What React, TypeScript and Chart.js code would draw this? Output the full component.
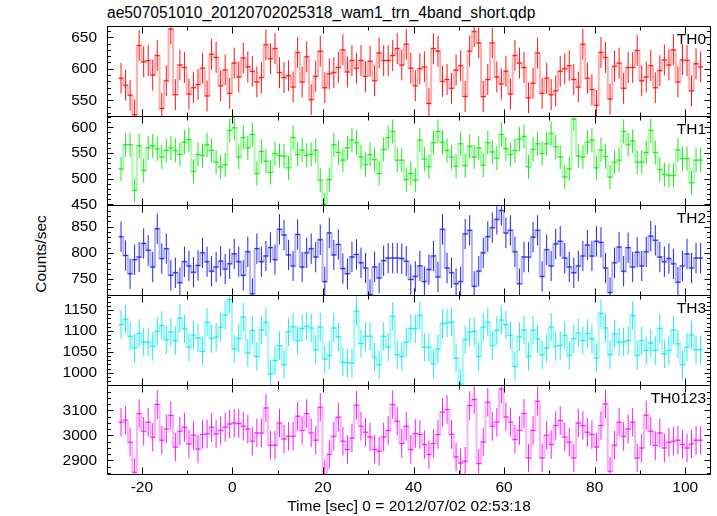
import React, { useEffect, useRef } from "react";
import { Chart, registerables } from "chart.js";

Chart.register(...registerables);

const FONT = '"Liberation Sans", Arial, Helvetica, sans-serif';
const W = 717;
const H = 516;
const PLOT_LEFT = 107;
const PLOT_RIGHT = 711;

// time grid (1 s bins)
const FIRST_BIN_CENTER = -24.6;
const BIN_WIDTH = 1;
const X_MIN = -27.7;
const X_MAX = 105.7;
const X_TICKS = [-20, 0, 20, 40, 60, 80, 100];
const X_MINOR_STEP = 10;

const TITLE = "ae507051010_20120702025318_wam1_trn_4band_short.qdp";
const X_TITLE = "Time [sec] 0 = 2012/07/02 02:53:18";
const Y_TITLE = "Counts/sec";

const TH0 = [
  585, 574, 558, 527, 637, 611, 613, 590, 621, 537,
  581, 663, 559, 606, 602, 560, 570, 575, 601, 557,
  623, 618, 573, 598, 561, 609, 587, 617, 603, 596,
  579, 586, 638, 616, 632, 594, 586, 589, 571, 626,
  579, 619, 551, 588, 628, 570, 592, 594, 602, 630,
  595, 613, 601, 613, 588, 612, 581, 625, 613, 613,
  621, 632, 606, 639, 601, 573, 600, 603, 545, 632,
  628, 580, 583, 569, 598, 605, 556, 628, 659, 641,
  556, 583, 641, 587, 576, 596, 560, 621, 609, 602,
  554, 577, 625, 561, 585, 559, 565, 596, 600, 605,
  583, 571, 639, 585, 567, 542, 626, 618, 552, 604,
  609, 569, 602, 602, 629, 581, 587, 605, 570, 597,
  614, 606, 630, 579, 614, 613, 565, 608, 603,
];

const TH1 = [
  519, 566, 566, 477, 564, 516, 560, 564, 558, 542,
  555, 560, 555, 547, 571, 576, 514, 547, 545, 566,
  555, 532, 523, 527, 594, 599, 542, 580, 560, 586,
  510, 553, 534, 512, 549, 545, 544, 521, 580, 547,
  556, 545, 547, 555, 497, 449, 498, 566, 551, 536,
  560, 575, 570, 542, 527, 547, 537, 510, 557, 580,
  592, 536, 536, 498, 510, 497, 575, 538, 523, 570,
  592, 571, 555, 542, 524, 568, 525, 563, 542, 560,
  526, 570, 552, 540, 586, 558, 547, 555, 577, 582,
  523, 557, 568, 549, 568, 588, 562, 542, 503, 519,
  616, 544, 542, 571, 575, 521, 556, 543, 503, 532,
  536, 592, 566, 573, 532, 532, 551, 594, 551, 518,
  508, 506, 506, 556, 539, 539, 492, 536, 536,
];

const TH2 = [
  831, 795, 760, 787, 792, 818, 805, 773, 846, 789,
  808, 757, 762, 743, 783, 775, 763, 776, 800, 783,
  765, 773, 784, 769, 779, 798, 783, 757, 802, 722,
  808, 783, 794, 810, 787, 845, 834, 796, 775, 835,
  773, 800, 808, 792, 825, 745, 838, 796, 816, 770,
  760, 792, 797, 781, 771, 720, 773, 752, 785, 790,
  790, 790, 789, 784, 749, 755, 775, 745, 768, 794,
  754, 845, 771, 762, 741, 745, 836, 843, 736, 765,
  800, 831, 848, 864, 881, 838, 843, 802, 741, 792,
  792, 830, 843, 755, 806, 775, 817, 822, 790, 773,
  762, 775, 794, 815, 794, 822, 820, 771, 724, 781,
  811, 765, 810, 773, 801, 775, 802, 832, 824, 792,
  783, 789, 779, 744, 775, 798, 771, 790, 790,
];

const TH3 = [
  1115, 1128, 1087, 1059, 1094, 1073, 1073, 1063, 1099, 1113,
  1079, 1097, 1077, 1130, 1105, 1061, 1090, 1083, 1051, 1121,
  1082, 1085, 1109, 1138, 1175, 1057, 1082, 1133, 1047, 1101,
  1039, 1102, 1121, 997, 1029, 1065, 1019, 1098, 1110, 1077,
  1106, 1111, 1107, 1055, 1109, 1033, 1041, 1107, 1086, 1025,
  1023, 1023, 1147, 1070, 1087, 1087, 1037, 1019, 1087, 1061,
  1135, 1043, 1039, 1073, 1106, 1105, 1137, 1061, 1061, 1021,
  1057, 1117, 1119, 1121, 1035, 973, 1079, 1097, 1099, 1039,
  1109, 1121, 1065, 1101, 1126, 1115, 1089, 1015, 1086, 1102,
  1039, 1102, 1081, 1043, 1059, 1109, 1063, 1065, 1089, 1041,
  1081, 1095, 1077, 1094, 1081, 1035, 1142, 1107, 1043, 1093,
  1073, 1074, 1077, 1137, 1041, 1077, 1053, 1071, 1053, 1106,
  1045, 1053, 1102, 1069, 1019, 1061, 1090, 1055, 1055,
];

const TH0123 = [
  3052, 3060, 2972, 2852, 3087, 3016, 3052, 2992, 3123, 2980,
  3025, 3079, 2953, 3016, 3032, 2965, 3000, 2945, 3003, 3005,
  3032, 3005, 3019, 3032, 3045, 3049, 3047, 3036, 3025, 2976,
  3009, 3009, 3109, 2960, 2960, 3049, 2985, 2996, 2996, 3076,
  3019, 3087, 3009, 2980, 3112, 2843, 2923, 2996, 3072, 2976,
  2943, 2989, 3120, 3036, 3012, 2993, 2943, 2936, 2993, 3019,
  3123, 3056, 2967, 3036, 2943, 3007, 3003, 2963, 2923, 2967,
  3003, 3092, 3103, 3003, 2913, 2889, 2896, 3119, 3143, 2887,
  2973, 3132, 3036, 3052, 3185, 3073, 3053, 2983, 3019, 3087,
  2909, 3019, 3136, 2909, 3000, 2963, 3039, 3059, 2993, 2972,
  2909, 3049, 3039, 3012, 3003, 2953, 3039, 3125, 2856, 2960,
  3052, 2996, 3025, 3052, 2909, 2949, 3080, 3016, 2959, 3009,
  2949, 2972, 2976, 2980, 2963, 2949, 2965, 2980, 2980,
];

// typical 1-sigma error bar half-length read for each band
const TH0_ERR = 24.5;
const TH1_ERR = 23.5;
const TH2_ERR = 29;
const TH3_ERR = 34;
const TH0123_ERR = 57;

const TH0_TICKS = [550, 600, 650];
const TH1_TICKS = [450, 500, 550, 600];
const TH2_TICKS = [750, 800, 850];
const TH3_TICKS = [1000, 1050, 1100, 1150];
const TH0123_TICKS = [2900, 3000, 3100];

type Panel = {
  label: string;
  values: number[];
  err: number;
  ticks: number[];
  major: number;
  minor: number;
  min: number;
  max: number;
  top: number;
  bottom: number;
  color: string;
  light: string;
};

const PANELS: Panel[] = [
  { label: "TH0", values: TH0, err: TH0_ERR, ticks: TH0_TICKS, major: 50, minor: 10, min: 523.5, max: 666.3, top: 27, bottom: 117, color: "rgb(255,20,20)", light: "rgba(255,20,20,0.35)" },
  { label: "TH1", values: TH1, err: TH1_ERR, ticks: TH1_TICKS, major: 50, minor: 10, min: 446.7, max: 620.1, top: 117, bottom: 206, color: "rgb(25,235,25)", light: "rgba(25,235,25,0.35)" },
  { label: "TH2", values: TH2, err: TH2_ERR, ticks: TH2_TICKS, major: 50, minor: 10, min: 717.5, max: 889.6, top: 206, bottom: 296, color: "rgb(35,35,235)", light: "rgba(35,35,235,0.35)" },
  { label: "TH3", values: TH3, err: TH3_ERR, ticks: TH3_TICKS, major: 50, minor: 10, min: 968.2, max: 1183.5, top: 296, bottom: 386, color: "rgb(30,235,235)", light: "rgba(30,235,235,0.4)" },
  { label: "TH0123", values: TH0123, err: TH0123_ERR, ticks: TH0123_TICKS, major: 100, minor: 25, min: 2841, max: 3197, top: 386, bottom: 475, color: "rgb(245,30,245)", light: "rgba(245,30,245,0.35)" },
];

function makeFramePlugin(p: Panel) {
  return {
    id: "panelFrame",
    afterDraw(chart: any) {
      const { ctx, chartArea: a } = chart;
      const x = chart.scales.x;
      const y = chart.scales.y;
      ctx.save();
      ctx.strokeStyle = "#000";
      ctx.lineWidth = 1;
      const L = Math.round(a.left) + 0.5;
      const R = Math.round(a.right) - 0.5;
      // shared boundaries between panels fall on the same pixel row
      const T = Math.round(a.top) - 0.5;
      const B = Math.round(a.bottom) - 0.5;
      ctx.beginPath();
      ctx.rect(L, T, R - L, B - T);
      // y ticks (inward, both sides)
      const start = Math.ceil(p.min / p.minor);
      const end = Math.floor(p.max / p.minor);
      for (let i = start; i <= end; i++) {
        const v = i * p.minor;
        const py = Math.round(y.getPixelForValue(v)) + 0.5;
        const len = v % p.major === 0 ? 6 : 3.5;
        ctx.moveTo(L, py);
        ctx.lineTo(L + len, py);
        ctx.moveTo(R, py);
        ctx.lineTo(R - len, py);
      }
      // x ticks (inward, top and bottom)
      const xs = Math.ceil(X_MIN / X_MINOR_STEP);
      const xe = Math.floor(X_MAX / X_MINOR_STEP);
      for (let i = xs; i <= xe; i++) {
        const v = i * X_MINOR_STEP;
        const px = Math.round(x.getPixelForValue(v)) + 0.5;
        const len = X_TICKS.includes(v) ? 7 : 4;
        ctx.moveTo(px, T);
        ctx.lineTo(px, T + len);
        ctx.moveTo(px, B);
        ctx.lineTo(px, B - len);
      }
      ctx.stroke();
      ctx.fillStyle = "#000";
      ctx.font = `15.5px ${FONT}`;
      ctx.textAlign = "right";
      ctx.textBaseline = "alphabetic";
      ctx.fillText(p.label, a.right - 5, a.top + 16.5);
      ctx.restore();
    },
  };
}

function makeConfig(p: Panel, idx: number): any {
  const isLast = idx === PANELS.length - 1;
  const n = p.values.length;
  const steps = p.values.map((v, k) => ({ x: FIRST_BIN_CENTER + k * BIN_WIDTH - BIN_WIDTH / 2, y: v }));
  steps.push({ x: FIRST_BIN_CENTER + (n - 0.5) * BIN_WIDTH, y: p.values[n - 1] });
  const horiz: any[] = [];
  const errs: any[] = [];
  p.values.forEach((v, k) => {
    const c = FIRST_BIN_CENTER + k * BIN_WIDTH;
    horiz.push({ x: c - BIN_WIDTH / 2, y: v }, { x: c + BIN_WIDTH / 2, y: v }, { x: c + BIN_WIDTH / 2, y: null });
    errs.push({ x: c, y: v - p.err }, { x: c, y: v + p.err }, { x: c, y: null });
  });

  const font = { family: FONT, size: 15.5 };

  const xScale: any = {
    type: "linear",
    min: X_MIN,
    max: X_MAX,
    display: isLast,
    grid: { display: false, drawTicks: false },
    border: { display: false },
    afterBuildTicks: (s: any) => {
      s.ticks = X_TICKS.map((v) => ({ value: v }));
    },
    ticks: {
      font,
      color: "#000",
      padding: 3,
      maxRotation: 0,
      autoSkip: false,
      callback: (v: any) => String(v),
    },
    title: { display: true, text: X_TITLE, font, color: "#000", padding: 0 },
  };
  if (isLast) {
    xScale.afterFit = (s: any) => {
      s.height = H - p.bottom;
    };
  }

  return {
    type: "line",
    data: {
      datasets: [
        { data: steps, stepped: "before", borderColor: p.light, borderWidth: 2, pointRadius: 0, fill: false, clip: 0 },
        { data: horiz, borderColor: p.color, borderWidth: 1, pointRadius: 0, fill: false, spanGaps: false, clip: 0 },
        { data: errs, borderColor: p.color, borderWidth: 1, pointRadius: 0, fill: false, spanGaps: false, clip: 0 },
      ],
    },
    options: {
      responsive: false,
      animation: false,
      events: [],
      layout: {
        padding: { left: 0, right: W - PLOT_RIGHT, top: p.top, bottom: isLast ? 0 : H - p.bottom },
      },
      plugins: {
        legend: { display: false },
        tooltip: { enabled: false },
        title: { display: false },
      },
      scales: {
        x: xScale,
        y: {
          type: "linear",
          min: p.min,
          max: p.max,
          grid: { display: false, drawTicks: false },
          border: { display: false },
          afterBuildTicks: (s: any) => {
            s.ticks = p.ticks.map((v) => ({ value: v }));
          },
          ticks: { font, color: "#000", padding: 10, autoSkip: false, callback: (v: any) => String(v) },
          afterFit: (s: any) => {
            s.width = PLOT_LEFT;
          },
        },
      },
    },
    plugins: [makeFramePlugin(p)],
  };
}

export default function App() {
  const refs = useRef<(HTMLCanvasElement | null)[]>([]);

  useEffect(() => {
    const charts = PANELS.map((p, i) => new Chart(refs.current[i] as HTMLCanvasElement, makeConfig(p, i)));
    return () => {
      charts.forEach((c) => c.destroy());
    };
  }, []);

  return (
    <div
      style={{
        position: "absolute",
        left: 0,
        top: 0,
        width: W,
        height: H,
        background: "#fff",
        overflow: "hidden",
        fontFamily: FONT,
        color: "#000",
      }}
    >
      <div style={{ position: "absolute", left: 107, top: 4, fontSize: 15.6, lineHeight: "18px", whiteSpace: "nowrap" }}>
        {TITLE}
      </div>
      <div
        style={{
          position: "absolute",
          left: 41,
          top: 254,
          transform: "translate(-50%, -50%) rotate(-90deg)",
          fontSize: 15.5,
          lineHeight: "18px",
          whiteSpace: "nowrap",
        }}
      >
        {Y_TITLE}
      </div>
      {PANELS.map((p, i) => (
        <canvas
          key={p.label}
          ref={(el) => {
            refs.current[i] = el;
          }}
          width={W}
          height={H}
          style={{ position: "absolute", left: 0, top: 0, width: W, height: H }}
        />
      ))}
    </div>
  );
}
